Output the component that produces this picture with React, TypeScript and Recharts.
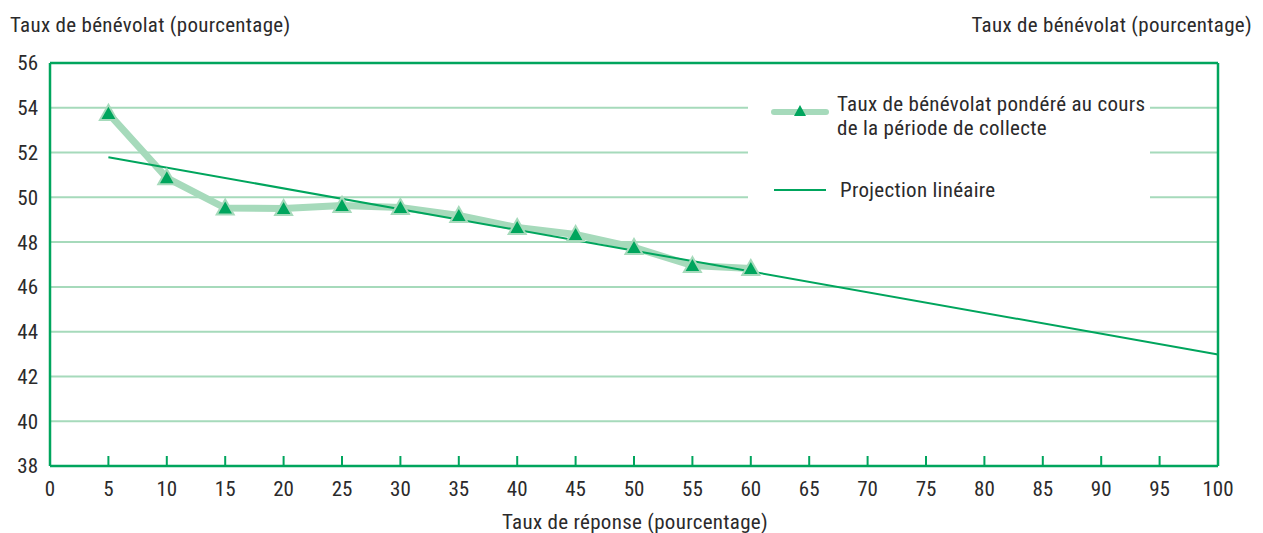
import * as React from "react"
import { LineChart, Line, XAxis, YAxis, CartesianGrid, ReferenceLine } from "recharts"

const responseRates = [5, 10, 15, 20, 25, 30, 35, 40, 45, 50, 55, 60]
const volunteerRates = [53.75, 50.87, 49.52, 49.5, 49.64, 49.55, 49.19, 48.65, 48.34, 47.76, 46.95, 46.82]
const projectionX = [5, 100]
const projectionY = [51.79, 42.98]
const xTicks = [0, 5, 10, 15, 20, 25, 30, 35, 40, 45, 50, 55, 60, 65, 70, 75, 80, 85, 90, 95, 100]
const yTicks = [38, 40, 42, 44, 46, 48, 50, 52, 54, 56]

const yTitle = "Taux de bénévolat (pourcentage)"
const xTitle = "Taux de réponse (pourcentage)"
const seriesLabel = ["Taux de bénévolat pondéré au cours", "de la période de collecte"]
const projectionLabel = "Projection linéaire"

const dark = "#00a55d"
const light = "#a6dabb"
const ink = "#2b2a2b"
const font = '"Liberation Sans Narrow", "Roboto Condensed", "Liberation Sans", Arial, sans-serif'

const allX = Array.from(new Set([...responseRates, ...projectionX])).sort((a, b) => a - b)
const data = allX.map((x) => {
  const i = responseRates.indexOf(x)
  const j = projectionX.indexOf(x)
  return {
    x,
    rate: i >= 0 ? volunteerRates[i] : null,
    projection: j >= 0 ? projectionY[j] : null,
  }
})

function Triangle({ cx, cy }: { cx?: number; cy?: number }) {
  if (cx == null || cy == null) return null
  return (
    <polygon
      points={`${cx},${cy - 8.5} ${cx - 8.5},${cy + 6.5} ${cx + 8.5},${cy + 6.5}`}
      fill={dark}
      stroke={light}
      strokeWidth={2}
    />
  )
}

const tickStyle = { fill: ink, fontSize: 21, fontFamily: font }
const textStyle = { fontSize: 21, letterSpacing: "0.3px", whiteSpace: "nowrap" as const }

export default function App() {
  return (
    <div style={{ position: "absolute", left: 0, top: 0, width: 1263, height: 533, fontFamily: font, color: ink, background: "#fff" }}>
      <LineChart width={1263} height={533} data={data} margin={{ top: 63, right: 0, bottom: 0, left: 0 }}>
        <CartesianGrid yAxisId="left" vertical={false} stroke={light} strokeWidth={2} />
        <XAxis
          dataKey="x"
          type="number"
          domain={[0, 100]}
          ticks={xTicks}
          interval={0}
          height={67}
          tickSize={-10}
          tickMargin={25}
          tickLine={{ stroke: dark, strokeWidth: 2 }}
          axisLine={{ stroke: dark, strokeWidth: 2.5 }}
          tick={tickStyle}
        />
        <YAxis
          yAxisId="left"
          orientation="left"
          width={50}
          domain={[38, 56]}
          ticks={yTicks}
          interval={0}
          tickLine={false}
          tickSize={6}
          tickMargin={6}
          axisLine={{ stroke: dark, strokeWidth: 2.5 }}
          tick={tickStyle}
        />
        <YAxis
          yAxisId="right"
          orientation="right"
          width={45}
          domain={[38, 56]}
          ticks={yTicks}
          interval={0}
          tickLine={false}
          tickSize={6}
          tickMargin={14}
          axisLine={{ stroke: dark, strokeWidth: 2.5 }}
          tick={{ ...tickStyle, textAnchor: "start" }}
        />
        <ReferenceLine yAxisId="left" y={56} stroke={dark} strokeWidth={2.5} />
        <Line
          yAxisId="left"
          dataKey="rate"
          stroke={light}
          strokeWidth={7}
          dot={<Triangle />}
          activeDot={false}
          isAnimationActive={false}
        />
        <Line
          yAxisId="left"
          dataKey="projection"
          stroke={dark}
          strokeWidth={2}
          dot={false}
          activeDot={false}
          connectNulls
          isAnimationActive={false}
        />
      </LineChart>

      <div style={{ ...textStyle, position: "absolute", left: 10, top: 15, lineHeight: "20px" }}>{yTitle}</div>
      <div style={{ ...textStyle, position: "absolute", right: 11, top: 15, lineHeight: "20px" }}>{yTitle}</div>
      <div style={{ ...textStyle, position: "absolute", left: 0, width: 1270, top: 512, lineHeight: "20px", textAlign: "center" }}>{xTitle}</div>

      <div style={{ position: "absolute", left: 748, top: 92, width: 402, height: 118, background: "#fff" }}>
        <svg width={90} height={118} style={{ position: "absolute", left: 0, top: 0 }}>
          <line x1={26} x2={78} y1={20} y2={20} stroke={light} strokeWidth={6} strokeLinecap="round" />
          <polygon points="52,13 46,24 58,24" fill={dark} />
          <line x1={26} x2={78} y1={98} y2={98} stroke={dark} strokeWidth={2} />
        </svg>
        <div style={{ ...textStyle, position: "absolute", left: 89, top: 0, lineHeight: "24px" }}>
          {seriesLabel[0]}
          <br />
          {seriesLabel[1]}
        </div>
        <div style={{ ...textStyle, position: "absolute", left: 92, top: 86, lineHeight: "24px" }}>{projectionLabel}</div>
      </div>
    </div>
  )
}
